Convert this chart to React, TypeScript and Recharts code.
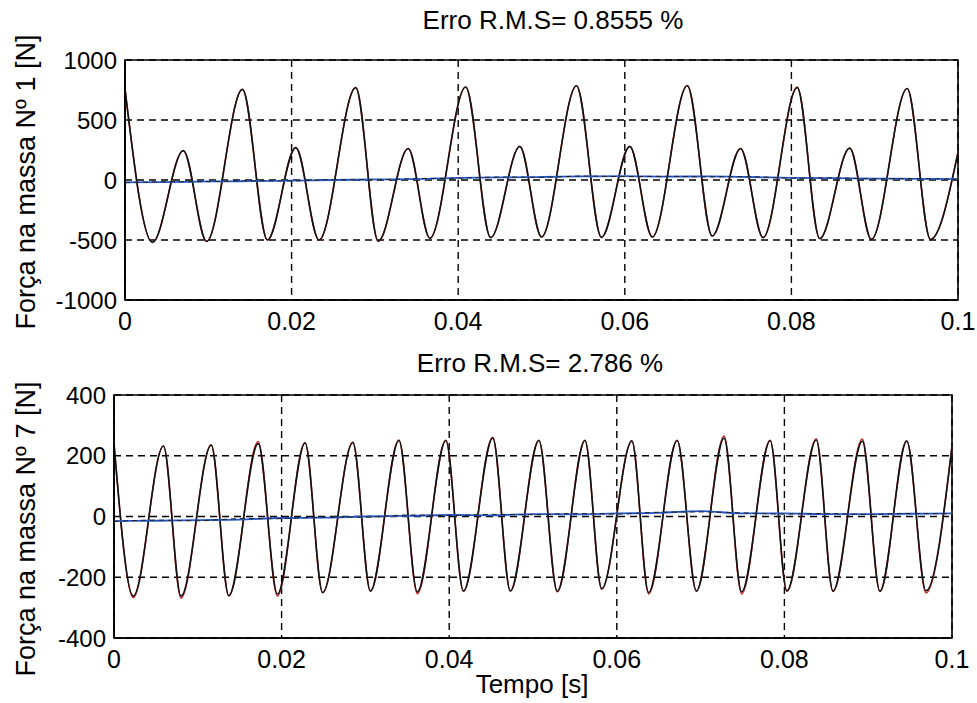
import React from 'react';
import { LineChart, Line, XAxis, YAxis, CartesianGrid, ReferenceArea } from 'recharts';

const FONT = '"Liberation Sans", Arial, Helvetica, sans-serif';

// eixo do tempo, comum aos dois gráficos
const timeTicks = [0, 0.02, 0.04, 0.06, 0.08, 0.1];
const timeTickLabels = ['0', '0.02', '0.04', '0.06', '0.08', '0.1'];
const mass1Ticks = [-1000, -500, 0, 500, 1000];
const mass7Ticks = [-400, -200, 0, 200, 400];

// massa 1: picos e vales
const mass1Time = [
  0, 0.0033, 0.007, 0.0098, 0.0141, 0.0171, 0.0205, 0.0233, 0.0277, 0.0304, 0.034,
  0.0366, 0.0409, 0.0439, 0.0474, 0.05, 0.0542, 0.0572, 0.0606, 0.0633, 0.0675,
  0.0705, 0.0739, 0.0766, 0.0807, 0.0834, 0.087, 0.0896, 0.0939, 0.0967, 0.1,
];
const mass1Force = [
  760, -520, 245, -512, 755, -500, 270, -500, 770, -510, 262,
  -485, 775, -480, 280, -475, 785, -478, 280, -475, 785,
  -467, 262, -480, 770, -488, 266, -495, 762, -495, 230,
];
const mass1Estimate = [
  760, -521, 245, -512, 756, -500, 270, -501, 771, -510, 262,
  -485, 776, -480, 280, -475, 786, -478, 280, -476, 787,
  -467, 262, -481, 774, -489, 266, -496, 763, -495, 230,
];

// massa 7
const mass7Time = [
  0, 0.0023, 0.0059, 0.008, 0.0116, 0.0137, 0.0172, 0.0195, 0.0228, 0.0249, 0.0285,
  0.0306, 0.034, 0.0362, 0.0396, 0.0417, 0.0452, 0.0473, 0.0507, 0.0529, 0.0562,
  0.0582, 0.0618, 0.0638, 0.0672, 0.0695, 0.0728, 0.0749, 0.0783, 0.0803, 0.0838,
  0.0858, 0.0893, 0.0914, 0.0946, 0.0969, 0.1,
];
const mass7Force = [
  240, -262, 232, -262, 235, -260, 240, -255, 242, -250, 243,
  -245, 250, -248, 250, -245, 258, -245, 250, -246, 250,
  -238, 248, -250, 250, -245, 258, -248, 250, -245, 252,
  -245, 248, -246, 248, -245, 230,
];
const mass7Estimate = [
  240, -267, 232, -269, 236, -262, 247, -262, 244, -251, 245,
  -246, 252, -254, 251, -246, 261, -245, 251, -248, 251,
  -239, 249, -255, 251, -246, 265, -255, 251, -246, 256,
  -247, 255, -247, 249, -252, 232,
];

// componentes lentas (azul) e referência tracejada
const trendTime = [
  0, 0.005, 0.01, 0.015, 0.02, 0.025, 0.03, 0.035, 0.04, 0.045, 0.05,
  0.055, 0.06, 0.065, 0.07, 0.075, 0.08, 0.085, 0.09, 0.095, 0.1,
];
const mass1Trend = [-20, -18, -12, -10, -5, 0, 5, 8, 18, 22, 25, 30, 32, 28, 30, 25, 18, 15, 12, 10, 8];
const mass1TrendRef = [-22, -15, -14, -6, -8, 3, 2, 12, 15, 25, 22, 33, 28, 31, 26, 28, 15, 18, 10, 12, 6];
const mass7Trend = [-15, -14, -12, -10, -5, -4, 0, 2, 5, 4, 8, 7, 10, 12, 18, 10, 10, 8, 8, 9, 10];
const mass7TrendRef = [-16, -12, -14, -7, -7, -2, -2, 5, 3, 7, 6, 10, 8, 14, 15, 12, 8, 10, 7, 10, 9];

const toPoints = (t: number[], v: number[], key: string) =>
  t.map((x, i) => ({ t: x, [key]: v[i] }));

interface PanelProps {
  height: number;
  margin: { top: number; right: number; bottom: number; left: number };
  yWidth: number;
  yTicks: number[];
  force: number[];
  estimate: number[];
  time: number[];
  trend: number[];
  trendRef: number[];
}

const Panel = ({ height, margin, yWidth, yTicks, force, estimate, time, trend, trendRef }: PanelProps) => {
  const yMin = yTicks[0];
  const yMax = yTicks[yTicks.length - 1];
  return (
    <LineChart width={977} height={height} margin={margin}>
      <CartesianGrid stroke="#000" strokeDasharray="7 5" strokeWidth={1.4} />
      <XAxis
        type="number"
        dataKey="t"
        domain={[0, 0.1]}
        ticks={timeTicks}
        interval={0}
        tickFormatter={(v: number) => timeTickLabels[Math.round(v / 0.02)]}
        tick={{ fill: '#000', fontSize: 25, fontFamily: FONT }}
        tickLine={false}
        axisLine={{ stroke: '#000', strokeWidth: 1.6 }}
        tickMargin={6}
        height={40}
      />
      <YAxis
        type="number"
        domain={[yMin, yMax]}
        ticks={yTicks}
        interval={0}
        width={yWidth}
        tick={{ fill: '#000', fontSize: 24, fontFamily: FONT }}
        tickLine={false}
        axisLine={{ stroke: '#000', strokeWidth: 1.6 }}
      />
      <ReferenceArea x1={0} x2={0.1} y1={yMin} y2={yMax} fill="none" stroke="#000" strokeWidth={1.6} />
      <Line data={toPoints(time, estimate, 'est')} dataKey="est" type="monotone" stroke="#c62828" strokeWidth={1.5} dot={false} isAnimationActive={false} />
      <Line data={toPoints(time, force, 'force')} dataKey="force" type="monotone" stroke="#111" strokeWidth={1.6} dot={false} isAnimationActive={false} />
      <Line data={toPoints(trendTime, trend, 'trend')} dataKey="trend" type="monotone" stroke="#2457c9" strokeWidth={1.8} dot={false} isAnimationActive={false} />
      <Line data={toPoints(trendTime, trendRef, 'ref')} dataKey="ref" type="monotone" stroke="#222" strokeWidth={1} strokeDasharray="5 4" dot={false} isAnimationActive={false} />
    </LineChart>
  );
};

export default function App() {
  return (
    <div style={{ position: 'relative', width: 977, height: 703, background: '#fff', fontFamily: FONT }}>
      <style>{'body{margin:0}'}</style>
      <div style={{ position: 'absolute', left: 0, top: 0 }}>
        <Panel
          height={340}
          margin={{ top: 60, right: 19, bottom: 0, left: 0 }}
          yWidth={125}
          yTicks={mass1Ticks}
          time={mass1Time}
          force={mass1Force}
          estimate={mass1Estimate}
          trend={mass1Trend}
          trendRef={mass1TrendRef}
        />
      </div>
      <div style={{ position: 'absolute', left: 0, top: 340 }}>
        <Panel
          height={363}
          margin={{ top: 55, right: 25, bottom: 25, left: 0 }}
          yWidth={114}
          yTicks={mass7Ticks}
          time={mass7Time}
          force={mass7Force}
          estimate={mass7Estimate}
          trend={mass7Trend}
          trendRef={mass7TrendRef}
        />
      </div>
      <svg width={977} height={703} style={{ position: 'absolute', left: 0, top: 0, pointerEvents: 'none' }}>
        <g fontFamily={FONT} fill="#000">
          <text x={553} y={29} fontSize={26} textAnchor="middle">Erro R.M.S= 0.8555 %</text>
          <text x={540} y={372} fontSize={26} textAnchor="middle">Erro R.M.S= 2.786 %</text>
          <text x={35} y={182} fontSize={27} textAnchor="middle" transform="rotate(-90 35 182)">Força na massa Nº 1 [N]</text>
          <text x={35} y={529} fontSize={27} textAnchor="middle" transform="rotate(-90 35 529)">Força na massa Nº 7 [N]</text>
          <text x={532} y={693} fontSize={26} textAnchor="middle">Tempo [s]</text>
        </g>
      </svg>
    </div>
  );
}
